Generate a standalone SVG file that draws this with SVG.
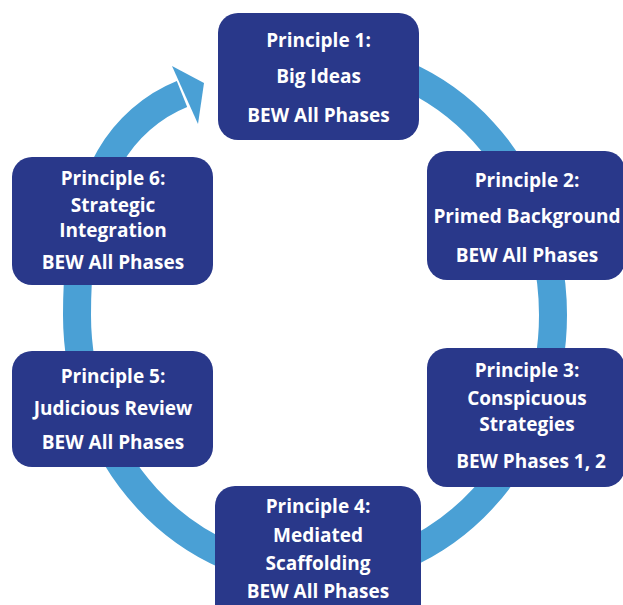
<svg xmlns="http://www.w3.org/2000/svg" width="623" height="605" viewBox="0 0 623 605">
  <style>
    .box { fill: #29388a; }
    .ring { fill: none; stroke: #4aa0d5; stroke-width: 28; }
    .head { fill: #4aa0d5; }
    text { font-family: "Open Sans", "Liberation Sans", sans-serif; font-weight: 700; font-size: 19px; fill: #ffffff; text-anchor: middle; }
  </style>
  <rect width="623" height="605" fill="#ffffff"/>

  <!-- cycle ring running clockwise, ending in an arrow pointing at Principle 1 -->
  <g id="connectors">
    <path class="ring" d="M315,56 A238,259 0 0 1 553,315 A238,259 0 0 1 315,574 A238,259 0 0 1 77,315 C77,262 82.5,205 110,157 C126,129 152,106 182,94"/>
    <polygon class="head" points="172,66 204,83 198,124"/>
  </g>

  <g id="principle-1">
    <rect class="box" x="218" y="13" width="201" height="127" rx="20"/>
    <text x="318.5" y="47">Principle 1:</text>
    <text x="318.5" y="83">Big Ideas</text>
    <text x="318.5" y="122">BEW All Phases</text>
  </g>

  <g id="principle-2">
    <rect class="box" x="427" y="151" width="198" height="129" rx="20"/>
    <text x="527" y="187">Principle 2:</text>
    <text x="527" y="223">Primed Background</text>
    <text x="527" y="262">BEW All Phases</text>
  </g>

  <g id="principle-3">
    <rect class="box" x="427" y="348" width="198" height="139" rx="20"/>
    <text x="527" y="377">Principle 3:</text>
    <text x="527" y="405">Conspicuous</text>
    <text x="527" y="431">Strategies</text>
    <text x="531" y="468">BEW Phases 1, 2</text>
  </g>

  <g id="principle-4">
    <rect class="box" x="215" y="486" width="206" height="140" rx="20"/>
    <text x="318" y="513">Principle 4:</text>
    <text x="318" y="542">Mediated</text>
    <text x="318" y="570">Scaffolding</text>
    <text x="318" y="598">BEW All Phases</text>
  </g>

  <g id="principle-5">
    <rect class="box" x="12" y="351" width="201" height="116" rx="20"/>
    <text x="113" y="383">Principle 5:</text>
    <text x="113" y="415">Judicious Review</text>
    <text x="113" y="449">BEW All Phases</text>
  </g>

  <g id="principle-6">
    <rect class="box" x="12" y="157" width="201" height="128" rx="20"/>
    <text x="113" y="185">Principle 6:</text>
    <text x="113" y="212">Strategic</text>
    <text x="113" y="237">Integration</text>
    <text x="113" y="269">BEW All Phases</text>
  </g>
</svg>
